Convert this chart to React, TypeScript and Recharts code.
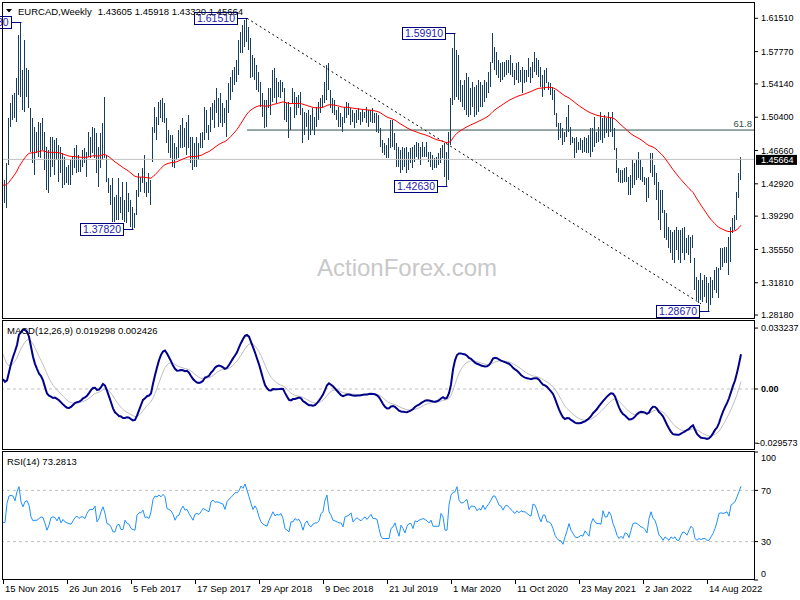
import React from 'react';
import { ComposedChart, Bar, Line, XAxis, YAxis, ReferenceLine, ReferenceDot } from 'recharts';

const FONT = '"Liberation Sans", Arial, sans-serif';

// ---- categories / tick labels (one bar per week, labels every 32 weeks) ----
const TICK_WEEKS = [0, 32, 64, 96, 128, 160, 192, 224, 256, 288, 320, 352];
const TICK_LABELS = ['15 Nov 2015', '26 Jun 2016', '5 Feb 2017', '17 Sep 2017', '29 Apr 2018', '9 Dec 2018', '21 Jul 2019', '1 Mar 2020', '11 Oct 2020', '23 May 2021', '2 Jan 2022', '14 Aug 2022'];

// ---- weekly EURCAD highs ----
const HIGH = [
  1.4317, 1.4335, 1.4523, 1.5028, 1.5196, 1.5290, 1.5308, 1.5477, 1.5963, 1.6113,
  1.5570, 1.5907, 1.5589, 1.5570, 1.5140, 1.5028, 1.4934, 1.4878, 1.4990, 1.4972,
  1.5028, 1.4878, 1.4710, 1.4672, 1.4822, 1.4822, 1.4784, 1.4803, 1.4728, 1.4710,
  1.4635, 1.4597, 1.4485, 1.4504, 1.4560, 1.4597, 1.4691, 1.4728, 1.4616, 1.4560,
  1.4672, 1.4691, 1.4653, 1.4878, 1.4822, 1.4934, 1.4915, 1.4859, 1.4710, 1.4859,
  1.4972, 1.5271, 1.4616, 1.4354, 1.4279, 1.4354, 1.4148, 1.4167, 1.4354, 1.4148,
  1.4317, 1.4111, 1.4317, 1.4186, 1.4111, 1.4036, 1.3961, 1.4223, 1.4410, 1.4373,
  1.4466, 1.4616, 1.4317, 1.4410, 1.4335, 1.4934, 1.5159, 1.5046, 1.5215, 1.5234,
  1.5252, 1.5196, 1.5028, 1.4897, 1.4841, 1.4841, 1.4747, 1.4710, 1.4897, 1.4953,
  1.5028, 1.4915, 1.4990, 1.5065, 1.4822, 1.4822, 1.4747, 1.4822, 1.4747, 1.4859,
  1.4878, 1.5159, 1.5121, 1.4953, 1.5159, 1.5196, 1.5234, 1.5365, 1.5252, 1.5308,
  1.5196, 1.5140, 1.5234, 1.5421, 1.5496, 1.5570, 1.5608, 1.5683, 1.5907, 1.6001,
  1.6076, 1.6132, 1.6151, 1.6057, 1.5926, 1.5739, 1.5701, 1.5627, 1.5552, 1.5439,
  1.5308, 1.5234, 1.5234, 1.5365, 1.5365, 1.5570, 1.5589, 1.5477, 1.5439, 1.5458,
  1.5439, 1.5365, 1.5196, 1.5215, 1.5159, 1.5365, 1.5327, 1.5271, 1.5290, 1.5327,
  1.5140, 1.5103, 1.5084, 1.5121, 1.5065, 1.5140, 1.5046, 1.5159, 1.5215, 1.5252,
  1.5290, 1.5439, 1.5627, 1.5645, 1.5346, 1.5252, 1.5234, 1.5121, 1.5159, 1.5084,
  1.5046, 1.5159, 1.5215, 1.5196, 1.5140, 1.5121, 1.5084, 1.5121, 1.5140, 1.5103,
  1.5121, 1.5103, 1.5159, 1.5121, 1.5121, 1.5140, 1.5084, 1.5084, 1.5065, 1.4915,
  1.4784, 1.4747, 1.4728, 1.4803, 1.5009, 1.5009, 1.4859, 1.4747, 1.4710, 1.4672,
  1.4710, 1.4691, 1.4710, 1.4653, 1.4691, 1.4710, 1.4728, 1.4766, 1.4747, 1.4710,
  1.4766, 1.4710, 1.4766, 1.4653, 1.4653, 1.4616, 1.4579, 1.4597, 1.4635, 1.4691,
  1.4728, 1.4747, 1.4653, 1.4878, 1.5252, 1.5814, 1.5991, 1.5795, 1.5739, 1.5458,
  1.5402, 1.5458, 1.5533, 1.5496, 1.5365, 1.5439, 1.5383, 1.5402, 1.5458, 1.5439,
  1.5402, 1.5458, 1.5439, 1.5552, 1.5664, 1.5982, 1.5832, 1.5776, 1.5683, 1.5645,
  1.5664, 1.5664, 1.5683, 1.5683, 1.5739, 1.5645, 1.5570, 1.5645, 1.5664, 1.5570,
  1.5608, 1.5570, 1.5570, 1.5701, 1.5608, 1.5664, 1.5776, 1.5701, 1.5683, 1.5608,
  1.5514, 1.5570, 1.5589, 1.5439, 1.5421, 1.5383, 1.5346, 1.5084, 1.4972, 1.4972,
  1.4915, 1.4878, 1.5046, 1.5177, 1.4934, 1.4822, 1.4803, 1.4822, 1.4766, 1.4803,
  1.4784, 1.4822, 1.4803, 1.4841, 1.4915, 1.4915, 1.5046, 1.4878, 1.4934, 1.5103,
  1.5028, 1.5065, 1.5028, 1.5103, 1.5046, 1.5103, 1.4915, 1.4691, 1.4466, 1.4448,
  1.4448, 1.4466, 1.4485, 1.4373, 1.4391, 1.4560, 1.4523, 1.4560, 1.4653, 1.4560,
  1.4485, 1.4373, 1.4354, 1.4373, 1.4635, 1.4635, 1.4504, 1.4410, 1.4317, 1.4223,
  1.4223, 1.3998, 1.3961, 1.3811, 1.3774, 1.3755, 1.3774, 1.3811, 1.3774, 1.3774,
  1.3792, 1.3811, 1.3680, 1.3718, 1.3699, 1.3718, 1.3456, 1.3250, 1.3212, 1.3287,
  1.3212, 1.3269, 1.3250, 1.3175, 1.3250, 1.3212, 1.3325, 1.3362, 1.3343, 1.3568,
  1.3568, 1.3587, 1.3587, 1.3699, 1.3811, 1.3905, 1.3942, 1.4204, 1.4410, 1.45918,
];

// ---- weekly EURCAD lows ----
const LOW = [
  1.4129, 1.4073, 1.4017, 1.4504, 1.4934, 1.5009, 1.5028, 1.4990, 1.5290, 1.5271,
  1.5121, 1.5103, 1.5271, 1.5140, 1.4653, 1.4523, 1.4391, 1.4635, 1.4597, 1.4579,
  1.4672, 1.4448, 1.4223, 1.4186, 1.4373, 1.4485, 1.4391, 1.4560, 1.4317, 1.4410,
  1.4242, 1.4279, 1.4298, 1.4279, 1.4279, 1.4391, 1.4466, 1.4410, 1.4429, 1.4429,
  1.4485, 1.4523, 1.4373, 1.4597, 1.4579, 1.4635, 1.4579, 1.4410, 1.4260, 1.4466,
  1.4560, 1.4579, 1.4317, 1.4186, 1.4055, 1.3867, 1.3867, 1.3886, 1.3886, 1.3961,
  1.3886, 1.3867, 1.3849, 1.3980, 1.3811, 1.3782, 1.3792, 1.3942, 1.4148, 1.4204,
  1.4298, 1.4186, 1.4148, 1.4186, 1.4055, 1.4541, 1.4859, 1.4784, 1.4953, 1.5028,
  1.4990, 1.4972, 1.4747, 1.4635, 1.4579, 1.4485, 1.4466, 1.4560, 1.4579, 1.4691,
  1.4691, 1.4710, 1.4616, 1.4691, 1.4523, 1.4448, 1.4485, 1.4485, 1.4560, 1.4691,
  1.4691, 1.4784, 1.4859, 1.4784, 1.4878, 1.5009, 1.4915, 1.5084, 1.4934, 1.4972,
  1.4934, 1.4972, 1.4822, 1.5084, 1.5234, 1.5327, 1.5402, 1.5439, 1.5514, 1.5758,
  1.5758, 1.5832, 1.5889, 1.5795, 1.5477, 1.5496, 1.5458, 1.5346, 1.5327, 1.5159,
  1.5046, 1.4915, 1.4934, 1.5140, 1.5065, 1.5215, 1.5252, 1.5196, 1.5271, 1.5252,
  1.5327, 1.5009, 1.4990, 1.4803, 1.4897, 1.5196, 1.5028, 1.5065, 1.5140, 1.5065,
  1.4747, 1.4841, 1.4934, 1.4784, 1.4841, 1.4897, 1.4841, 1.4934, 1.5009, 1.5084,
  1.5140, 1.5196, 1.5234, 1.5346, 1.5140, 1.5084, 1.5065, 1.5009, 1.4934, 1.4934,
  1.4878, 1.4972, 1.5028, 1.5065, 1.4953, 1.4990, 1.4915, 1.4972, 1.5009, 1.4953,
  1.4990, 1.5028, 1.4972, 1.4934, 1.4990, 1.4972, 1.4972, 1.4878, 1.4859, 1.4710,
  1.4635, 1.4616, 1.4579, 1.4579, 1.4691, 1.4710, 1.4672, 1.4485, 1.4485, 1.4410,
  1.4448, 1.4485, 1.4410, 1.4448, 1.4523, 1.4466, 1.4541, 1.4597, 1.4560, 1.4504,
  1.4597, 1.4597, 1.4597, 1.4541, 1.4485, 1.4448, 1.4466, 1.4466, 1.4504, 1.4523,
  1.4579, 1.4373, 1.4263, 1.4335, 1.4728, 1.5177, 1.5234, 1.5271, 1.5234, 1.5215,
  1.5159, 1.5121, 1.5065, 1.5046, 1.5065, 1.5159, 1.5046, 1.5065, 1.5103, 1.5159,
  1.5159, 1.5215, 1.5252, 1.5308, 1.5383, 1.5645, 1.5570, 1.5514, 1.5477, 1.5439,
  1.5458, 1.5496, 1.5514, 1.5533, 1.5514, 1.5496, 1.5402, 1.5458, 1.5421, 1.5439,
  1.5308, 1.5421, 1.5439, 1.5496, 1.5421, 1.5477, 1.5552, 1.5514, 1.5496, 1.5383,
  1.5271, 1.5346, 1.5421, 1.5346, 1.5290, 1.5234, 1.5065, 1.4934, 1.4784, 1.4803,
  1.4728, 1.4766, 1.4822, 1.4878, 1.4728, 1.4747, 1.4579, 1.4635, 1.4672, 1.4672,
  1.4635, 1.4653, 1.4635, 1.4635, 1.4597, 1.4653, 1.4710, 1.4747, 1.4766, 1.4784,
  1.4747, 1.4803, 1.4859, 1.4822, 1.4878, 1.4822, 1.4672, 1.4410, 1.4317, 1.4298,
  1.4298, 1.4317, 1.4317, 1.4167, 1.4167, 1.4242, 1.4279, 1.4335, 1.4354, 1.4335,
  1.4317, 1.4279, 1.4092, 1.4129, 1.4410, 1.4373, 1.4279, 1.4111, 1.3886, 1.3774,
  1.3961, 1.3680, 1.3662, 1.3568, 1.3512, 1.3437, 1.3400, 1.3549, 1.3437, 1.3400,
  1.3512, 1.3437, 1.3512, 1.3493, 1.3400, 1.3568, 1.3100, 1.2988, 1.2950, 1.2988,
  1.2969, 1.3025, 1.2950, 1.2867, 1.2932, 1.3006, 1.3100, 1.3063, 1.3006, 1.3325,
  1.3362, 1.3400, 1.3400, 1.3269, 1.3418, 1.3736, 1.3774, 1.3886, 1.4129, 1.43320,
];

// ---- weekly EURCAD closes ----
const CLOSE = [
  1.4204, 1.4260, 1.4504, 1.4990, 1.5159, 1.5177, 1.5234, 1.5383, 1.5795, 1.5458,
  1.5533, 1.5421, 1.5365, 1.5159, 1.4784, 1.4672, 1.4747, 1.4803, 1.4766, 1.4859,
  1.4710, 1.4485, 1.4410, 1.4597, 1.4653, 1.4597, 1.4691, 1.4579, 1.4541, 1.4466,
  1.4429, 1.4391, 1.4391, 1.4429, 1.4504, 1.4560, 1.4579, 1.4523, 1.4504, 1.4541,
  1.4616, 1.4560, 1.4616, 1.4710, 1.4766, 1.4747, 1.4653, 1.4485, 1.4635, 1.4784,
  1.4859, 1.4597, 1.4335, 1.4204, 1.4111, 1.3998, 1.4036, 1.4111, 1.4055, 1.4111,
  1.3998, 1.4073, 1.4092, 1.3998, 1.3905, 1.3867, 1.3942, 1.4186, 1.4298, 1.4373,
  1.4410, 1.4242, 1.4298, 1.4223, 1.4317, 1.4878, 1.4934, 1.5028, 1.5121, 1.5121,
  1.5084, 1.5009, 1.4784, 1.4710, 1.4672, 1.4597, 1.4635, 1.4691, 1.4822, 1.4859,
  1.4822, 1.4803, 1.4878, 1.4747, 1.4635, 1.4616, 1.4653, 1.4653, 1.4728, 1.4784,
  1.4859, 1.5009, 1.4897, 1.4934, 1.5103, 1.5084, 1.5196, 1.5159, 1.5140, 1.5084,
  1.5046, 1.5028, 1.5196, 1.5346, 1.5439, 1.5514, 1.5552, 1.5645, 1.5851, 1.5907,
  1.5982, 1.6020, 1.5963, 1.5832, 1.5608, 1.5570, 1.5514, 1.5421, 1.5365, 1.5215,
  1.5121, 1.5065, 1.5196, 1.5234, 1.5327, 1.5421, 1.5346, 1.5346, 1.5365, 1.5383,
  1.5346, 1.5084, 1.5046, 1.5009, 1.5140, 1.5252, 1.5177, 1.5215, 1.5215, 1.5121,
  1.4972, 1.5009, 1.4972, 1.4953, 1.5009, 1.4953, 1.5028, 1.5103, 1.5159, 1.5215,
  1.5271, 1.5402, 1.5496, 1.5365, 1.5177, 1.5140, 1.5084, 1.5046, 1.5009, 1.4972,
  1.5028, 1.5121, 1.5140, 1.5084, 1.5046, 1.5028, 1.5046, 1.5065, 1.5046, 1.5065,
  1.5065, 1.5065, 1.5046, 1.5065, 1.5065, 1.5028, 1.5009, 1.4953, 1.4878, 1.4747,
  1.4672, 1.4653, 1.4691, 1.4766, 1.4859, 1.4784, 1.4691, 1.4597, 1.4541, 1.4579,
  1.4597, 1.4560, 1.4541, 1.4597, 1.4597, 1.4635, 1.4672, 1.4653, 1.4616, 1.4672,
  1.4653, 1.4672, 1.4616, 1.4579, 1.4541, 1.4523, 1.4523, 1.4560, 1.4597, 1.4653,
  1.4635, 1.4466, 1.4597, 1.4859, 1.5196, 1.5758, 1.5608, 1.5496, 1.5346, 1.5290,
  1.5271, 1.5308, 1.5271, 1.5215, 1.5290, 1.5234, 1.5234, 1.5271, 1.5308, 1.5290,
  1.5327, 1.5346, 1.5402, 1.5496, 1.5627, 1.5758, 1.5645, 1.5589, 1.5552, 1.5570,
  1.5589, 1.5608, 1.5608, 1.5627, 1.5570, 1.5514, 1.5552, 1.5552, 1.5514, 1.5477,
  1.5496, 1.5514, 1.5552, 1.5552, 1.5552, 1.5627, 1.5627, 1.5608, 1.5533, 1.5421,
  1.5421, 1.5496, 1.5439, 1.5365, 1.5327, 1.5271, 1.5084, 1.4953, 1.4878, 1.4841,
  1.4822, 1.4859, 1.5009, 1.4915, 1.4784, 1.4766, 1.4710, 1.4710, 1.4728, 1.4710,
  1.4747, 1.4710, 1.4747, 1.4766, 1.4784, 1.4859, 1.4822, 1.4841, 1.4915, 1.4915,
  1.4934, 1.4953, 1.4972, 1.4972, 1.4972, 1.4859, 1.4691, 1.4448, 1.4373, 1.4373,
  1.4391, 1.4410, 1.4335, 1.4279, 1.4373, 1.4410, 1.4448, 1.4504, 1.4466, 1.4410,
  1.4335, 1.4298, 1.4223, 1.4354, 1.4523, 1.4448, 1.4317, 1.4186, 1.4036, 1.4073,
  1.3980, 1.3811, 1.3718, 1.3662, 1.3605, 1.3587, 1.3662, 1.3624, 1.3587, 1.3643,
  1.3624, 1.3605, 1.3605, 1.3568, 1.3643, 1.3587, 1.3175, 1.3100, 1.3137, 1.3100,
  1.3137, 1.3100, 1.3025, 1.3063, 1.3119, 1.3194, 1.3231, 1.3175, 1.3325, 1.3474,
  1.3493, 1.3493, 1.3512, 1.3624, 1.3774, 1.3867, 1.3905, 1.4148, 1.43605, 1.45664,
];

// ---- RSI(14) values ----
const RSI = [
  44.9, 45.0, 59.8, 65.6, 66.1, 65.6, 61.9, 69.0, 72.9, 61.1,
  57.2, 61.1, 61.9, 58.5, 49.3, 46.2, 46.7, 46.7, 48.0, 49.3,
  48.8, 44.1, 38.9, 42.8, 48.8, 49.3, 48.8, 46.2, 49.3, 44.6,
  47.3, 45.4, 44.6, 44.1, 43.6, 46.2, 48.8, 49.9, 48.0, 49.3,
  49.3, 48.0, 52.0, 54.6, 55.1, 55.1, 57.7, 45.4, 48.0, 53.3,
  57.2, 52.0, 44.1, 43.6, 41.5, 37.6, 37.6, 42.8, 43.6, 39.4,
  39.4, 46.7, 44.1, 43.6, 40.2, 39.4, 38.9, 50.7, 52.5, 52.5,
  54.6, 48.8, 49.3, 48.0, 53.3, 62.9, 65.6, 65.0, 66.3, 65.0,
  66.9, 65.0, 55.9, 55.1, 54.1, 51.4, 46.7, 49.9, 50.7, 55.1,
  57.7, 54.6, 55.1, 52.0, 49.3, 46.7, 51.4, 52.0, 51.2, 53.3,
  55.9, 55.1, 54.1, 53.3, 61.1, 62.4, 60.6, 61.1, 60.6, 59.8,
  59.3, 55.1, 61.1, 63.2, 64.5, 66.3, 68.2, 68.2, 69.7, 73.4,
  71.6, 75.0, 70.3, 65.0, 59.8, 55.1, 57.9, 55.1, 49.3, 45.4,
  43.6, 42.8, 42.0, 46.7, 49.9, 53.3, 50.1, 51.2, 50.7, 52.0,
  48.0, 40.2, 38.9, 37.6, 45.4, 45.4, 48.0, 46.7, 47.3, 44.1,
  38.9, 44.1, 46.2, 42.8, 41.5, 43.6, 44.6, 44.6, 46.2, 52.0,
  53.3, 62.4, 66.3, 53.3, 50.7, 46.7, 46.2, 45.4, 44.6, 44.6,
  41.5, 49.3, 49.9, 50.7, 52.5, 45.4, 47.3, 48.6, 47.3, 46.2,
  48.0, 49.3, 47.3, 49.3, 51.2, 48.0, 48.0, 47.3, 40.2, 33.7,
  32.4, 32.4, 32.4, 32.4, 40.2, 41.5, 44.6, 38.9, 34.2, 42.8,
  40.2, 36.8, 42.0, 44.1, 44.1, 40.2, 46.2, 45.4, 46.7, 47.3,
  48.0, 47.3, 46.2, 44.6, 46.7, 42.0, 42.0, 42.0, 42.0, 52.0,
  49.3, 38.9, 38.9, 58.5, 66.3, 68.4, 69.0, 72.9, 62.4, 60.3,
  60.3, 61.9, 62.9, 55.1, 57.7, 57.7, 57.2, 54.1, 55.9, 54.6,
  58.5, 55.1, 57.7, 59.8, 62.4, 65.6, 65.6, 62.4, 58.5, 57.7,
  54.6, 57.7, 58.5, 56.7, 55.1, 53.3, 52.0, 54.1, 52.5, 54.1,
  53.3, 53.3, 52.0, 50.7, 49.9, 59.3, 58.5, 54.6, 49.3, 45.4,
  50.7, 50.7, 45.4, 45.4, 44.1, 40.2, 35.0, 32.4, 31.0, 30.5,
  27.9, 33.7, 38.4, 44.1, 38.9, 36.3, 33.7, 33.1, 33.7, 35.0,
  34.2, 38.4, 36.3, 34.2, 44.1, 48.0, 45.4, 44.1, 44.1, 43.6,
  54.1, 49.3, 49.3, 53.3, 50.7, 44.1, 40.2, 35.0, 32.4, 34.2,
  32.4, 36.8, 36.3, 33.1, 38.9, 44.1, 44.6, 44.1, 42.8, 41.5,
  41.0, 39.4, 36.8, 48.0, 53.3, 48.0, 46.7, 41.5, 35.0, 33.7,
  31.0, 33.7, 32.4, 31.0, 33.7, 32.4, 33.7, 31.0, 31.0, 35.0,
  37.6, 36.8, 35.0, 38.9, 42.0, 40.2, 32.4, 31.0, 32.4, 31.6,
  32.4, 32.4, 31.0, 31.0, 33.7, 36.3, 40.2, 45.4, 52.0, 52.5,
  52.0, 52.5, 53.3, 49.9, 58.5, 59.8, 61.1, 65.0, 69.0, 73.28,
];

// ---- axis ticks ----
const PRICE_TICKS = [1.2818, 1.3181, 1.3555, 1.3929, 1.4292, 1.4666, 1.504, 1.5414, 1.5777, 1.6151];
const MACD_TICKS = [0.033237, 0, -0.029573];
const RSI_TICKS = [100, 70, 30, 0];
const RSI_LEVELS = [70, 30];

// ---- annotations ----
const LAST_PRICE = 1.45664;
const FIB_618 = 1.4896;
const FIB_START_WEEK = 122;
const TREND_POINTS = [
  { week: 122, price: 1.6151 },
  { week: 349, price: 1.2945 },
];
const SWING_WEEKS = [9, 65, 122, 222, 226, 353];
const SWING_PRICES = [1.6113, 1.3782, 1.6151, 1.4263, 1.5991, 1.2867];

// ---- indicator settings (seeded with values read at the left edge) ----
const MA_PERIOD = 55;
const MA_START = 1.428;
const MACD_FAST_START = 1.443;
const MACD_SLOW_START = 1.4352;
const MACD_SIGNAL_START = 0.0224;

const HEADER_VALUES = '1.43605 1.45918 1.43320 1.45664';
const MACD_TITLE = 'MACD(12,26,9) 0.019298 0.002426';
const RSI_TITLE = 'RSI(14) 73.2813';

const BAR_COLOR = '#173E5C';
const X_DOMAIN: [number, number] = [-0.5, 375.5];

function buildRows() {
  const rows: any[] = [];
  let ma = MA_START;
  let fast = MACD_FAST_START;
  let slow = MACD_SLOW_START;
  let sig = MACD_SIGNAL_START;
  const kMa = 2 / (MA_PERIOD + 1);
  const kFast = 2 / 13;
  const kSlow = 2 / 27;
  const kSig = 2 / 10;
  for (let i = 0; i < CLOSE.length; i++) {
    const c = CLOSE[i];
    ma += kMa * (c - ma);
    fast += kFast * (c - fast);
    slow += kSlow * (c - slow);
    const macd = fast - slow;
    sig += kSig * (macd - sig);
    rows.push({ w: i, range: [LOW[i], HIGH[i]], ma, macd, signal: sig, rsi: RSI[i] });
  }
  return rows;
}

const ROWS = buildRows();

const PriceBar = (props: any) => {
  const { x, y, width, height } = props;
  if (x == null || y == null || isNaN(x) || isNaN(y)) return null;
  const top = Math.min(y, y + height);
  const h = Math.max(1, Math.abs(height));
  const cx = Math.round(x + width / 2 - 0.49);
  return <rect x={cx} y={top} width={1} height={h} fill={BAR_COLOR} shapeRendering="crispEdges" />;
};

const SwingTag = (props: any) => {
  const { cx, cy, text } = props;
  if (cx == null || cy == null) return null;
  const yy = Math.round(cy) + 0.5;
  const bx = Math.round(cx) - 52.5;
  return (
    <g>
      <line x1={bx + 43} y1={yy} x2={Math.round(cx) + 0.5} y2={yy} stroke="#00007F" />
      <rect x={bx} y={yy - 6} width={43} height={12} fill="#ffffff" stroke="#00007F" />
      <text x={bx + 21.5} y={yy} dy="0.36em" textAnchor="middle" fontFamily={FONT} fontSize={10.5} fill="#1C1CB4">
        {text}
      </text>
    </g>
  );
};

const FibText = (props: any) => {
  const { cx, cy } = props;
  if (cx == null || cy == null) return null;
  return (
    <text x={cx - 2} y={cy - 3} textAnchor="end" fontFamily={FONT} fontSize={9.5} fill="#2F4F4F">
      61.8
    </text>
  );
};

const LastTag = (props: any) => {
  const vb = props.viewBox || {};
  const x = (vb.x || 0) + (vb.width || 0) + 2;
  const y = vb.y || 0;
  return (
    <g>
      <rect x={x} y={y - 4.5} width={41} height={10} fill="#000" />
      <text x={x + 5} y={y} dy="0.36em" fontFamily={FONT} fontSize={9} fill="#fff">
        {LAST_PRICE.toFixed(5)}
      </text>
    </g>
  );
};

const MacdTick = (props: any) => {
  const { x, y, payload } = props;
  const v = payload.value;
  const label = v === 0 ? '0.00' : v.toFixed(6);
  return (
    <text x={v < 0 ? x - 4 : x} y={y} dy="0.355em" fontFamily={FONT} fontSize={9} fill="#000" fontWeight={v === 0 ? 'bold' : 'normal'}>
      {label}
    </text>
  );
};

const RsiTick = (props: any) => {
  const { x, y, payload } = props;
  const v = payload.value;
  const shift = v === 100 ? 6 : v === 0 ? -6 : 0;
  return (
    <text x={x} y={y + shift} dy="0.355em" fontFamily={FONT} fontSize={9} fill="#000">
      {v}
    </text>
  );
};

const DateTick = (props: any) => {
  const { x, y, payload } = props;
  const idx = TICK_WEEKS.indexOf(payload.value);
  const lx = Math.round(x) + 0.5;
  return (
    <g>
      <line x1={lx} y1={y} x2={lx} y2={y + 4} stroke="#000" />
      <text x={lx + 1.5} y={y + 12} fontFamily={FONT} fontSize={9.5} fill="#000">
        {TICK_LABELS[idx]}
      </text>
    </g>
  );
};

const axisTick = { fontSize: 9, fontFamily: FONT, fill: '#000' };

export default function App() {
  return (
    <div style={{ position: 'absolute', left: 0, top: 0, width: 800, height: 600, background: '#fff', overflow: 'hidden' }}>
      {/* watermark (under the series) */}
      <svg width={800} height={600} style={{ position: 'absolute', left: 0, top: 0 }}>
        <text x={317} y={276} fontFamily={FONT} fontSize={24} fill="#C8C8C8">ActionForex.com</text>
      </svg>

      {/* price panel */}
      <div style={{ position: 'absolute', left: 0, top: 0 }}>
        <ComposedChart width={800} height={320} data={ROWS} margin={{ top: 2, right: 0, bottom: 2, left: 2 }}>
          <XAxis dataKey="w" type="number" domain={X_DOMAIN} allowDataOverflow hide />
          <YAxis
            orientation="right"
            width={46}
            type="number"
            domain={[1.2785, 1.6334]}
            allowDataOverflow
            ticks={PRICE_TICKS}
            interval={0}
            tickFormatter={(v: number) => v.toFixed(5)}
            tick={axisTick}
            tickSize={4}
            tickMargin={3}
            tickLine={{ stroke: '#000' }}
            axisLine={false}
          />
          <ReferenceLine y={LAST_PRICE} stroke="#C0C0C0" label={<LastTag />} />
          <ReferenceLine
            segment={[{ x: FIB_START_WEEK, y: FIB_618 }, { x: X_DOMAIN[1], y: FIB_618 }]}
            stroke="#2F4F4F"
          />
          <ReferenceLine
            segment={[{ x: TREND_POINTS[0].week, y: TREND_POINTS[0].price }, { x: TREND_POINTS[1].week, y: TREND_POINTS[1].price }]}
            stroke="#000"
            strokeDasharray="2 3"
          />
          <Bar dataKey="range" barSize={2} shape={PriceBar} isAnimationActive={false} />
          <Line dataKey="ma" type="linear" stroke="#FF0000" strokeWidth={1} dot={false} isAnimationActive={false} />
          <ReferenceDot x={X_DOMAIN[1]} y={FIB_618} r={0} shape={FibText} />
          {SWING_WEEKS.map((w, i) => (
            <ReferenceDot
              key={w}
              x={w}
              y={SWING_PRICES[i]}
              r={0}
              shape={(p: any) => <SwingTag {...p} text={SWING_PRICES[i].toFixed(5)} />}
            />
          ))}
        </ComposedChart>
      </div>

      {/* MACD panel */}
      <div style={{ position: 'absolute', left: 0, top: 320 }}>
        <ComposedChart width={800} height={130} data={ROWS} margin={{ top: 1, right: 0, bottom: 2, left: 2 }}>
          <XAxis dataKey="w" type="number" domain={X_DOMAIN} allowDataOverflow hide />
          <YAxis
            orientation="right"
            width={46}
            type="number"
            domain={[-0.0322, 0.0371]}
            allowDataOverflow
            ticks={MACD_TICKS}
            interval={0}
            tick={<MacdTick />}
            tickSize={4}
            tickMargin={3}
            tickLine={{ stroke: '#000' }}
            axisLine={false}
          />
          <ReferenceLine y={0} stroke="#C0C0C0" strokeDasharray="3 3" />
          <Line dataKey="signal" type="linear" stroke="#C0C0C0" strokeWidth={1} dot={false} isAnimationActive={false} />
          <Line dataKey="macd" type="linear" stroke="#00008B" strokeWidth={2} dot={false} isAnimationActive={false} />
        </ComposedChart>
      </div>

      {/* RSI panel */}
      <div style={{ position: 'absolute', left: 0, top: 450 }}>
        <ComposedChart width={800} height={150} data={ROWS} margin={{ top: 2, right: 0, bottom: 0, left: 2 }}>
          <XAxis
            dataKey="w"
            type="number"
            domain={X_DOMAIN}
            allowDataOverflow
            ticks={TICK_WEEKS}
            interval={0}
            height={20}
            tick={<DateTick />}
            tickSize={0}
            tickMargin={0}
            tickLine={false}
            axisLine={false}
          />
          <YAxis
            orientation="right"
            width={46}
            type="number"
            domain={[0, 100]}
            allowDataOverflow
            ticks={RSI_TICKS}
            interval={0}
            tick={<RsiTick />}
            tickSize={4}
            tickMargin={3}
            tickLine={{ stroke: '#000' }}
            axisLine={false}
          />
          {RSI_LEVELS.map((lv) => (
            <ReferenceLine key={lv} y={lv} stroke="#C0C0C0" strokeDasharray="3 3" />
          ))}
          <Line dataKey="rsi" type="linear" stroke="#1E90FF" strokeWidth={1} dot={false} isAnimationActive={false} />
        </ComposedChart>
      </div>

      {/* frames and titles */}
      <svg width={800} height={600} style={{ position: 'absolute', left: 0, top: 0, pointerEvents: 'none' }}>
        <rect x={2.5} y={2.5} width={752} height={316} fill="none" stroke="#000" />
        <rect x={2.5} y={320.5} width={752} height={129} fill="none" stroke="#000" />
        <rect x={2.5} y={451.5} width={752} height={128} fill="none" stroke="#000" />
        <polygon points="6,9 12,9 9,12.5" fill="#000" />
        <text x={18} y={14.5} fontFamily={FONT} fontSize={9.5} fill="#000">
          <tspan>EURCAD,Weekly</tspan>
          <tspan dx={6}>{HEADER_VALUES}</tspan>
        </text>
        <text x={7} y={333.5} fontFamily={FONT} fontSize={9.5} fill="#000">{MACD_TITLE}</text>
        <text x={7} y={464.5} fontFamily={FONT} fontSize={9.5} fill="#000">{RSI_TITLE}</text>
      </svg>
    </div>
  );
}
